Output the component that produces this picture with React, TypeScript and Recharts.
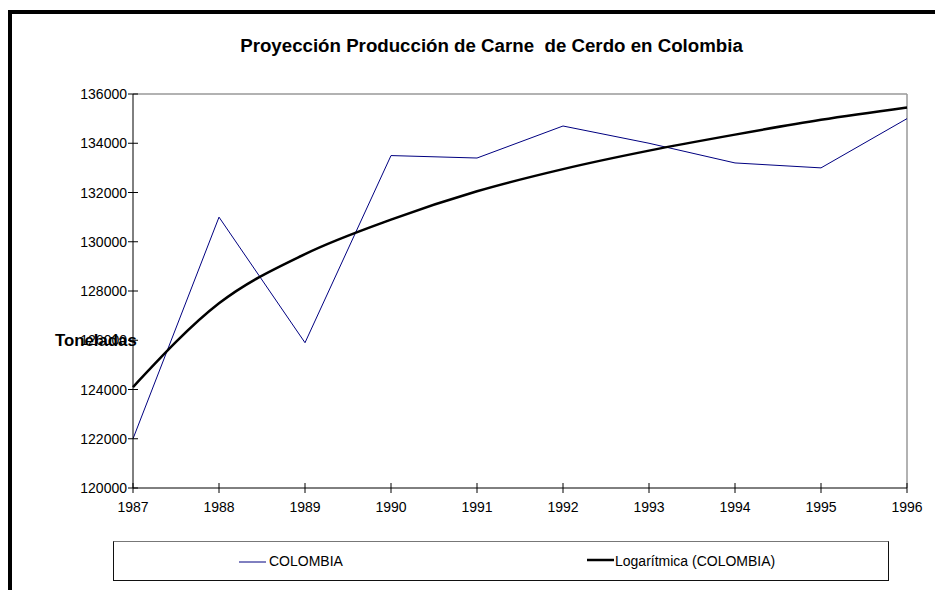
import React from "react";
import { LineChart, Line, XAxis, YAxis, ReferenceLine } from "recharts";

const years = ["1987", "1988", "1989", "1990", "1991", "1992", "1993", "1994", "1995", "1996"];
const colombia = [122000, 131000, 125900, 133500, 133400, 134700, 134000, 133200, 133000, 135000];
const logTrend = [124100, 127500, 129500, 130900, 132050, 132950, 133700, 134350, 134950, 135450];
const yTicks = [120000, 122000, 124000, 126000, 128000, 130000, 132000, 134000, 136000];
const seriesNames = ["COLOMBIA", "Logarítmica (COLOMBIA)"];

const data = years.map((y, i) => ({ year: y, colombia: colombia[i], trend: logTrend[i] }));

const font = "'Liberation Sans', Arial, sans-serif";

const YTick = (props: any) => {
  const { y, payload } = props;
  return (
    <g>
      <line x1={128} x2={138} y1={y} y2={y} stroke="#000" />
      <text x={127} y={y} dy={5} textAnchor="end" fontSize={14} fill="#000" fontFamily={font}>
        {payload.value}
      </text>
    </g>
  );
};

const XTick = (props: any) => {
  const { x, payload } = props;
  return (
    <g>
      <line x1={x} x2={x} y1={483} y2={493} stroke="#000" />
      <text x={x} y={512} textAnchor="middle" fontSize={14} fill="#000" fontFamily={font}>
        {payload.value}
      </text>
    </g>
  );
};

export default function App() {
  return (
    <div style={{ position: "absolute", left: 0, top: 0, width: 935, height: 590, background: "#fff", fontFamily: font }}>
      <div style={{ position: "absolute", left: 8, top: 10, width: 4, height: 580, background: "#000" }} />
      <div style={{ position: "absolute", left: 8, top: 10, width: 927, height: 4, background: "#000" }} />
      <div
        style={{
          position: "absolute", left: 0, width: 935, top: 35, textAlign: "center",
          fontWeight: "bold", fontSize: 18.7, whiteSpace: "pre", paddingLeft: 48, boxSizing: "border-box",
        }}
      >
        {"Proyección Producción de Carne  de Cerdo en Colombia"}
      </div>
      <LineChart width={935} height={590} data={data} margin={{ top: 94, right: 28, bottom: 72, left: 0 }}>
        <ReferenceLine y={136000} stroke="#999" strokeWidth={1.5} />
        <ReferenceLine x="1996" stroke="#999" strokeWidth={1.5} />
        <XAxis dataKey="year" height={30} tickLine={false} axisLine={{ stroke: "#000" }} tick={XTick} interval={0} />
        <YAxis
          width={133}
          domain={[120000, 136000]}
          ticks={yTicks}
          interval={0}
          tickLine={false}
          axisLine={{ stroke: "#000" }}
          tick={YTick}
          label={{ value: "Toneladas", position: "insideLeft", dx: 50, dy: 49, fontSize: 16.8, fontWeight: "bold", fill: "#000", fontFamily: font }}
        />
        <Line dataKey="colombia" stroke="#000080" strokeWidth={1} dot={false} isAnimationActive={false} type="linear" />
        <Line dataKey="trend" stroke="#000" strokeWidth={2.5} dot={false} isAnimationActive={false} type="monotone" />
      </LineChart>
      <div
        style={{
          position: "absolute", left: 113, top: 541, width: 776, height: 40, boxSizing: "border-box",
          border: "1px solid #111", borderTopColor: "#777", fontSize: 14,
        }}
      >
        <div style={{ position: "absolute", left: 125, top: 11, display: "flex", alignItems: "center" }}>
          <svg width={27} height={10}><line x1={0} x2={27} y1={6} y2={6} stroke="#000080" strokeWidth={1} /></svg>
          <span style={{ marginLeft: 3 }}>{seriesNames[0]}</span>
        </div>
        <div style={{ position: "absolute", left: 473, top: 11, display: "flex", alignItems: "center" }}>
          <svg width={27} height={10}><line x1={0} x2={27} y1={4} y2={4} stroke="#000" strokeWidth={2.5} /></svg>
          <span style={{ marginLeft: 1 }}>{seriesNames[1]}</span>
        </div>
      </div>
    </div>
  );
}
